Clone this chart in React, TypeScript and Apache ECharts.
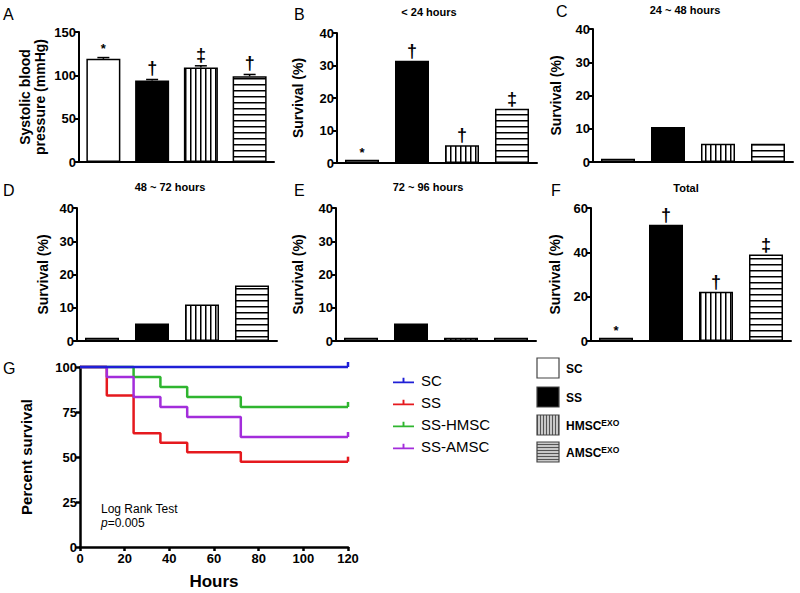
import React, { useEffect, useRef } from 'react';
import * as echarts from 'echarts';

// ---------- data ----------
const groups = ['SC', 'SS', 'HMSC', 'AMSC'];

const sbpValues = [119, 94, 109, 99];
const sbpErrors = [1.5, 1.2, 2, 2];
const sbpMarks = ['*', '†', '‡', '†'];

const under24Values = [1, 31.5, 5.5, 16.7];
const under24Marks = ['*', '†', '†', '‡'];

const h24to48Values = [1, 10.5, 5.5, 5.5];
const h48to72Values = [1, 5.3, 11, 16.7];
const h72to96Values = [1, 5.3, 1, 1];

const totalValues = [1.5, 52.5, 22.2, 39];
const totalMarks = ['*', '†', '†', '‡'];

const panelTitles = ['', '< 24 hours', '24 ~ 48 hours', '48 ~ 72 hours', '72 ~ 96 hours', 'Total'];
const panelLetters = ['A', 'B', 'C', 'D', 'E', 'F', 'G'];
const barYMax = [150, 40, 40, 40, 40, 60];
const barYInterval = [50, 10, 10, 10, 10, 20];
const barYNames = ['Systolic blood\npressure (mmHg)', 'Survival (%)', 'Survival (%)', 'Survival (%)', 'Survival (%)', 'Survival (%)'];

const kmNames = ['SC', 'SS', 'SS-HMSC', 'SS-AMSC'];
const scHours = [0, 120];
const scSurvival = [100, 100];
const ssHours = [0, 12, 24, 36, 48, 72, 120];
const ssSurvival = [100, 84.2, 63.2, 57.9, 52.6, 47.4, 47.4];
const hmscHours = [0, 24, 36, 48, 72, 120];
const hmscSurvival = [100, 94.4, 88.9, 83.3, 77.8, 77.8];
const amscHours = [0, 12, 24, 36, 48, 72, 120];
const amscSurvival = [100, 94.4, 83.3, 77.8, 72.2, 61.1, 61.1];

const barLegendNames = ['SC', 'SS', 'HMSC', 'AMSC'];
const barLegendSup = ['', '', 'EXO', 'EXO'];

// ---------- styling / layout ----------
const FONT = '"Liberation Sans", Arial, Helvetica, sans-serif';
const kmColors = ['#1f1fd6', '#e5191e', '#2fb52f', '#a32ddb'];

const grids = [
  { left: 79, top: 32, width: 195, height: 130 },
  { left: 337, top: 33, width: 200, height: 130 },
  { left: 593, top: 29, width: 200, height: 133 },
  { left: 77, top: 208, width: 200, height: 133 },
  { left: 336, top: 208, width: 200, height: 133 },
  { left: 591, top: 208, width: 200, height: 133 },
  { left: 80, top: 367, width: 268, height: 180 },
];
const nameGaps = [32, 32, 30, 27, 31, 29];
const titlePos = [
  [0, 0],
  [429, 12],
  [685, 10],
  [170, 187],
  [428, 187],
  [686, 188],
];
const letterPos = [
  [3, 14],
  [294, 14],
  [556, 11],
  [3, 190],
  [294, 190],
  [551, 190],
  [3, 368],
];

function stripeCanvas(vertical: boolean, size: number, line: number, color: string, bg: string) {
  const c = document.createElement('canvas');
  c.width = size;
  c.height = size;
  const ctx = c.getContext('2d')!;
  ctx.fillStyle = bg;
  ctx.fillRect(0, 0, size, size);
  ctx.fillStyle = color;
  if (vertical) ctx.fillRect(0, 0, line, size);
  else ctx.fillRect(0, 0, size, line);
  return c;
}

export default function App() {
  const ref = useRef<HTMLDivElement>(null);

  useEffect(() => {
    document.body.style.margin = '0';
    if (!ref.current) return;
    const chart = echarts.init(ref.current, undefined, { renderer: 'svg' });

    const vPattern = { image: stripeCanvas(true, 5, 1.5, '#000', '#fff'), repeat: 'repeat' };
    const hPattern = { image: stripeCanvas(false, 6, 1.5, '#000', '#fff'), repeat: 'repeat' };
    const vPatternSmall = { image: stripeCanvas(true, 3, 1, '#555', '#c8c8c8'), repeat: 'repeat' };
    const hPatternSmall = { image: stripeCanvas(false, 3, 1, '#555', '#c8c8c8'), repeat: 'repeat' };
    const fills: any[] = ['#ffffff', '#000000', vPattern, hPattern];
    const legendFills: any[] = ['#ffffff', '#000000', vPatternSmall, hPatternSmall];

    const barSets = [sbpValues, under24Values, h24to48Values, h48to72Values, h72to96Values, totalValues];
    const markSets: (string[] | null)[] = [sbpMarks, under24Marks, null, null, null, totalMarks];

    const axisLine = { show: true, onZero: false, lineStyle: { color: '#000', width: 2 } };
    const axisTick = { show: true, length: 4, lineStyle: { color: '#000', width: 2 } };

    const xAxes: any[] = [];
    const yAxes: any[] = [];
    const series: any[] = [];

    barSets.forEach((vals, idx) => {
      xAxes.push({
        type: 'category',
        gridIndex: idx,
        data: groups,
        axisLine,
        axisTick: { show: false },
        axisLabel: { show: false },
        splitLine: { show: false },
      });
      yAxes.push({
        type: 'value',
        gridIndex: idx,
        min: 0,
        max: barYMax[idx],
        interval: barYInterval[idx],
        name: barYNames[idx],
        nameLocation: 'middle',
        nameRotate: 90,
        nameGap: nameGaps[idx],
        nameMoveOverlap: false,
        nameTextStyle: { fontFamily: FONT, fontWeight: 'bold', fontSize: 14, lineHeight: 15, color: '#000' },
        axisLine,
        axisTick,
        axisLabel: { fontFamily: FONT, fontWeight: 'bold', fontSize: 13, color: '#000', margin: 3 },
        splitLine: { show: false },
      });
      const marks = markSets[idx];
      series.push({
        type: 'bar',
        name: 'bars' + idx,
        xAxisIndex: idx,
        yAxisIndex: idx,
        barWidth: 34,
        silent: true,
        itemStyle: { borderColor: '#000', borderWidth: 1.5 },
        data: vals.map((v, i) => ({
          value: v,
          itemStyle: { color: fills[i] },
          label:
            marks && marks[i]
              ? {
                  show: true,
                  position: 'top',
                  distance: idx === 0 ? 4 : 1,
                  formatter: marks[i],
                  fontFamily: FONT,
                  fontWeight: 'bold',
                  fontSize: marks[i] === '*' ? 13 : 18,
                  color: '#000',
                }
              : { show: false },
        })),
      });
    });

    // error bars for panel A
    series.push({
      type: 'custom',
      name: 'sbpErr',
      xAxisIndex: 0,
      yAxisIndex: 0,
      silent: true,
      data: sbpValues.map((v, i) => [i, v, sbpErrors[i]]),
      renderItem: (params: any, api: any) => {
        const x = api.value(0);
        const y = api.value(1);
        const e = api.value(2);
        const p0 = api.coord([x, y]);
        const p1 = api.coord([x, y + e]);
        return {
          type: 'group',
          children: [
            { type: 'line', shape: { x1: p0[0], y1: p0[1], x2: p1[0], y2: p1[1] }, style: { stroke: '#000', lineWidth: 1.5 } },
            { type: 'line', shape: { x1: p1[0] - 6, y1: p1[1], x2: p1[0] + 6, y2: p1[1] }, style: { stroke: '#000', lineWidth: 1.5 } },
          ],
        };
      },
    });

    // Kaplan-Meier panel G
    xAxes.push({
      type: 'value',
      gridIndex: 6,
      min: 0,
      max: 120,
      interval: 20,
      name: 'Hours',
      nameLocation: 'middle',
      nameGap: 26,
      nameTextStyle: { fontFamily: FONT, fontWeight: 'bold', fontSize: 17, color: '#000' },
      axisLine: { show: true, onZero: false, lineStyle: { color: '#000', width: 2.5 } },
      axisTick: { show: true, length: 4, lineStyle: { color: '#000', width: 2.5 } },
      axisLabel: { fontFamily: FONT, fontWeight: 'bold', fontSize: 13, color: '#000', margin: 5, showMinLabel: true, showMaxLabel: true },
      splitLine: { show: false },
    });
    yAxes.push({
      type: 'value',
      gridIndex: 6,
      min: 0,
      max: 100,
      interval: 25,
      name: 'Percent survival',
      nameLocation: 'middle',
      nameRotate: 90,
      nameGap: 46,
      nameMoveOverlap: false,
      nameTextStyle: { fontFamily: FONT, fontWeight: 'bold', fontSize: 15, color: '#000' },
      axisLine: { show: true, onZero: false, lineStyle: { color: '#000', width: 2.5 } },
      axisTick: { show: true, length: 4, lineStyle: { color: '#000', width: 2.5 } },
      axisLabel: { fontFamily: FONT, fontWeight: 'bold', fontSize: 13, color: '#000', margin: 3 },
      splitLine: { show: false },
    });

    const kmSets = [
      [scHours, scSurvival],
      [ssHours, ssSurvival],
      [hmscHours, hmscSurvival],
      [amscHours, amscSurvival],
    ];
    const kmOrder = [1, 2, 3, 0];
    kmOrder.forEach((k) => {
      const [hrs, surv] = kmSets[k];
      series.push({
        type: 'line',
        name: kmNames[k],
        xAxisIndex: 6,
        yAxisIndex: 6,
        step: 'end',
        clip: false,
        silent: true,
        showSymbol: true,
        symbol: 'none',
        color: kmColors[k],
        lineStyle: { color: kmColors[k], width: 2.5 },
        itemStyle: { color: kmColors[k] },
        data: hrs.map((h, i) =>
          i === hrs.length - 1
            ? { value: [h, surv[i]], symbol: 'rect', symbolSize: [2.5, 5], symbolOffset: [0, -2.5] }
            : { value: [h, surv[i]] }
        ),
      });
    });

    const graphics: any[] = [];
    panelLetters.forEach((l, i) => {
      graphics.push({
        type: 'text',
        x: letterPos[i][0],
        y: letterPos[i][1],
        silent: true,
        style: { text: l, fontFamily: FONT, fontSize: 16, fill: '#000', textAlign: 'left', textVerticalAlign: 'middle', align: 'left', verticalAlign: 'middle' },
      });
    });
    panelTitles.forEach((t, i) => {
      if (!t) return;
      graphics.push({
        type: 'text',
        x: titlePos[i][0],
        y: titlePos[i][1],
        silent: true,
        style: { text: t, fontFamily: FONT, fontSize: 11, fontWeight: 'bold', fill: '#000', textAlign: 'center', textVerticalAlign: 'middle', align: 'center', verticalAlign: 'middle' },
      });
    });
    // bar legend
    const legendY = [368, 397, 425, 452];
    barLegendNames.forEach((n, i) => {
      graphics.push({
        type: 'rect',
        silent: true,
        shape: { x: 537, y: legendY[i] - 10, width: 22, height: 20 },
        style: { fill: legendFills[i], stroke: '#444', lineWidth: 1.2 },
      });
      graphics.push({
        type: 'text',
        x: 566,
        y: legendY[i],
        silent: true,
        style: {
          text: barLegendSup[i] ? `{a|${n}}{b|${barLegendSup[i]}}` : `{a|${n}}`,
          textVerticalAlign: 'middle',
          verticalAlign: 'middle',
          rich: {
            a: { fontFamily: FONT, fontSize: 12, fontWeight: 'bold', fill: '#000', color: '#000', lineHeight: 14, verticalAlign: 'bottom' },
            b: { fontFamily: FONT, fontSize: 8.5, fontWeight: 'bold', fill: '#000', color: '#000', lineHeight: 14, verticalAlign: 'top', padding: [0, 0, 6, 0] },
          },
        },
      });
    });
    // log rank text
    graphics.push({
      type: 'text',
      x: 101,
      y: 509,
      silent: true,
      style: { text: 'Log Rank Test', fontFamily: FONT, fontSize: 12, fill: '#000', textVerticalAlign: 'middle', verticalAlign: 'middle' },
    });
    graphics.push({
      type: 'text',
      x: 101,
      y: 523,
      silent: true,
      style: {
        text: '{i|p}{r|=0.005}',
        textVerticalAlign: 'middle',
        verticalAlign: 'middle',
        rich: {
          i: { fontFamily: FONT, fontSize: 12, fontStyle: 'italic', fill: '#000', color: '#000' },
          r: { fontFamily: FONT, fontSize: 12, fill: '#000', color: '#000' },
        },
      },
    });

    chart.setOption({
      animation: false,
      backgroundColor: '#ffffff',
      grid: grids.map((g) => ({ ...g, containLabel: false, outerBoundsMode: 'none' })),
      xAxis: xAxes,
      yAxis: yAxes,
      legend: {
        data: kmNames,
        orient: 'vertical',
        left: 388,
        top: 368,
        itemWidth: 21,
        itemHeight: 6,
        itemGap: 7,
        icon: 'path://M0,4L22,4L22,6L0,6Z M10,0L12,0L12,6L10,6Z',
        selectedMode: false,
        textStyle: { fontFamily: FONT, fontSize: 15, color: '#000', lineHeight: 14, padding: [0, 0, 0, 2] },
      },
      series,
      graphic: { elements: graphics },
    });

    return () => {
      chart.dispose();
    };
  }, []);

  return <div ref={ref} style={{ width: 800, height: 593 }} />;
}
